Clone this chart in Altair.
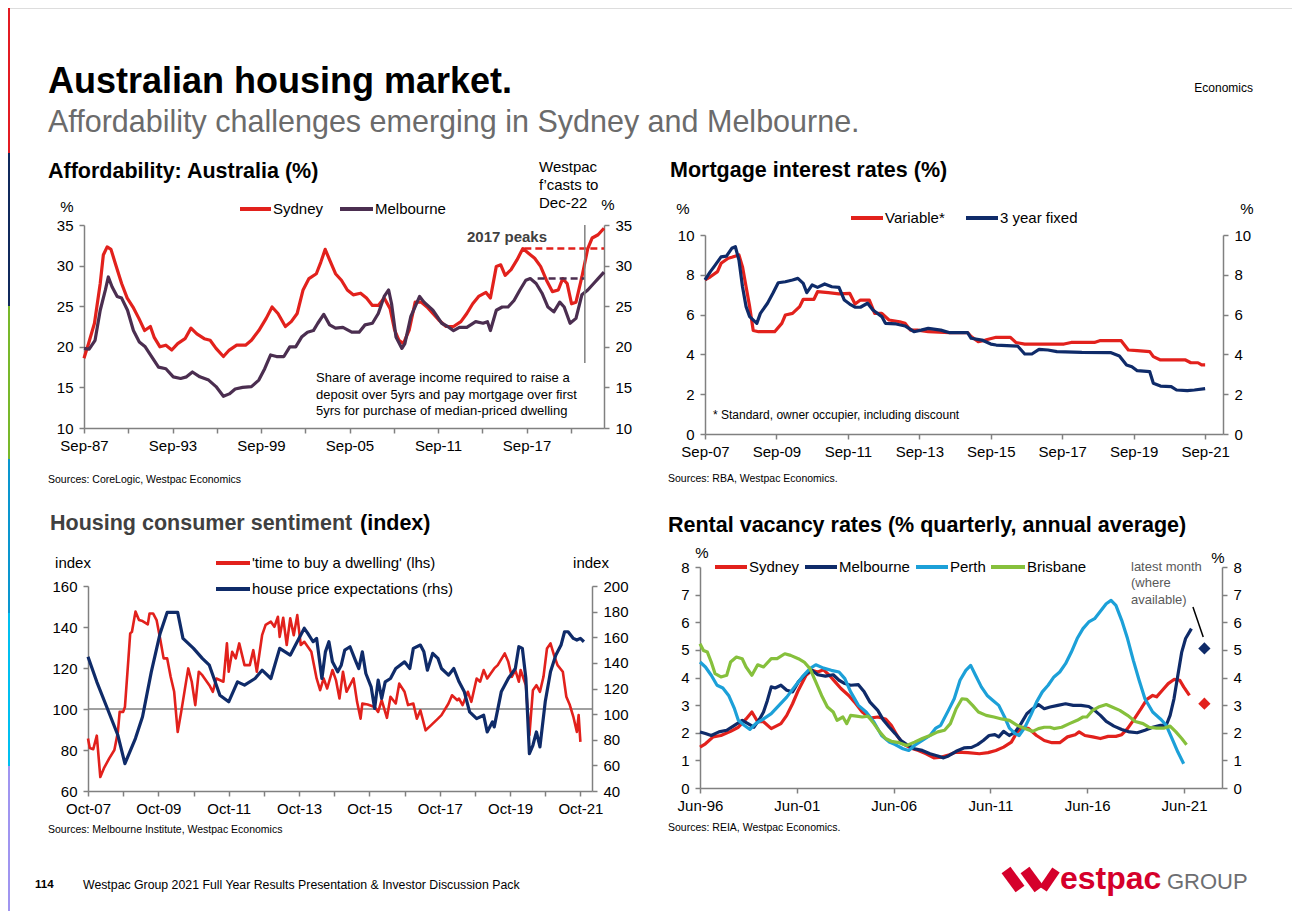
import json
import altair as alt
import pandas as pd

W, H = 1284, 903
FONT = "Liberation Sans"
RED = "#e2211c"
PLUM = "#4b2e50"
NAVY = "#0f2b69"
SKY = "#1ca0d8"
GREEN = "#86c03c"
AXC = "#808080"

# ---------------- data (decimal year, value) ----------------
aff_sydney = [(1987.75,18.6),(1988.06,20.4),(1988.46,22.9),(1988.85,27.8),(1989.06,31.3),(1989.32,32.3),(1989.58,32.0),(1989.9,30.1),(1990.3,27.8),(1990.68,26.0),(1991.07,24.9),(1991.47,23.5),(1991.86,22.0),(1992.25,22.5),(1992.5,21.2),(1992.9,20.0),(1993.3,20.2),(1993.7,19.6),(1994.1,20.4),(1994.6,21.0),(1995.0,22.3),(1995.4,21.6),(1995.9,21.0),(1996.3,20.8),(1996.7,19.8),(1997.2,18.8),(1997.6,19.6),(1998.1,20.2),(1998.7,20.2),(1999.1,20.8),(1999.6,22.0),(2000.1,23.5),(2000.5,24.9),(2000.9,24.1),(2001.4,22.5),(2001.8,23.1),(2002.2,24.1),(2002.6,27.0),(2003.0,28.4),(2003.5,29.0),(2003.8,30.4),(2004.1,32.0),(2004.4,30.7),(2004.8,29.0),(2005.2,28.2),(2005.6,27.0),(2006.0,26.4),(2006.5,26.6),(2006.9,26.0),(2007.3,25.1),(2007.7,25.1),(2008.1,26.0),(2008.5,24.7),(2008.8,22.1),(2009.1,20.8),(2009.4,20.4),(2009.8,22.1),(2010.2,25.5),(2010.6,25.5),(2011.0,24.9),(2011.4,24.1),(2011.8,23.3),(2012.3,22.5),(2012.8,22.5),(2013.3,23.1),(2013.7,24.1),(2014.1,25.3),(2014.5,26.2),(2015.0,26.7),(2015.3,26.0),(2015.7,29.9),(2016.0,30.1),(2016.3,28.8),(2016.7,29.5),(2017.1,30.7),(2017.5,32.1),(2017.9,31.5),(2018.3,30.9),(2018.7,29.9),(2019.1,28.2),(2019.5,26.8),(2019.9,27.0),(2020.2,28.4),(2020.5,27.8),(2020.8,25.3),(2021.1,25.5),(2021.5,28.6),(2021.9,32.1),(2022.2,33.4),(2022.6,33.8),(2023.0,34.6)]
aff_melbourne = [(1987.75,19.8),(1988.1,19.7),(1988.5,20.8),(1988.85,24.5),(1989.2,27.0),(1989.4,28.6),(1989.65,27.4),(1990.0,26.2),(1990.3,26.0),(1990.7,24.5),(1991.1,22.0),(1991.5,20.6),(1991.9,20.0),(1992.4,18.6),(1992.8,17.5),(1993.3,17.3),(1993.8,16.3),(1994.3,16.1),(1994.7,16.3),(1995.1,16.9),(1995.6,16.3),(1996.2,15.9),(1996.7,15.1),(1997.2,13.9),(1997.6,14.2),(1998.0,14.8),(1998.5,15.0),(1999.1,15.1),(1999.6,15.9),(2000.0,17.3),(2000.4,19.0),(2000.8,18.8),(2001.3,18.8),(2001.7,20.0),(2002.1,20.0),(2002.5,21.2),(2002.9,21.8),(2003.3,22.0),(2003.6,22.9),(2004.0,24.0),(2004.4,22.7),(2004.8,22.3),(2005.3,22.4),(2005.9,21.8),(2006.4,21.8),(2006.8,22.7),(2007.3,22.9),(2007.7,24.1),(2008.1,26.2),(2008.4,27.0),(2008.6,25.3),(2008.9,21.2),(2009.3,19.8),(2009.5,20.4),(2009.9,23.7),(2010.5,26.2),(2010.8,25.5),(2011.4,24.5),(2011.7,23.7),(2012.0,22.9),(2012.4,22.5),(2012.8,22.0),(2013.2,22.4),(2013.7,22.4),(2014.3,23.1),(2014.8,22.9),(2015.1,23.1),(2015.3,22.0),(2015.7,24.5),(2016.1,24.9),(2016.5,24.9),(2016.9,25.7),(2017.3,27.0),(2017.7,28.2),(2018.0,28.4),(2018.4,27.8),(2018.8,26.6),(2019.2,24.9),(2019.6,24.3),(2020.0,25.5),(2020.3,24.9),(2020.7,22.9),(2021.1,23.5),(2021.5,26.4),(2021.9,27.0),(2022.3,27.8),(2022.6,28.4),(2023.0,29.2)]
aff_peak_sydney = [(2017.6, 2023.0, 32.1)]
aff_peak_melbourne = [(2018.5, 2021.7, 28.4)]
aff_forecast_start = [(2021.7, 18.0, 35.0)]
aff_xlabels = ["Sep-87", "", "Sep-93", "", "Sep-99", "", "Sep-05", "", "Sep-11", "", "Sep-17", ""]

rate_variable = [(2007.75,7.74),(2007.9,7.9),(2008.1,8.16),(2008.2,8.58),(2008.4,8.83),(2008.5,8.88),(2008.7,9.0),(2008.8,8.4),(2008.9,7.4),(2009.0,6.4),(2009.1,5.2),(2009.25,5.14),(2009.45,5.14),(2009.7,5.14),(2009.9,5.56),(2010.0,5.98),(2010.2,6.06),(2010.4,6.4),(2010.5,6.77),(2010.8,6.77),(2010.9,7.15),(2011.2,7.1),(2011.5,7.04),(2011.8,7.07),(2011.95,6.53),(2012.1,6.73),(2012.35,6.73),(2012.5,6.06),(2012.7,6.06),(2012.9,5.73),(2013.2,5.64),(2013.35,5.56),(2013.5,5.22),(2013.7,5.22),(2014.0,5.14),(2014.6,5.09),(2015.1,5.09),(2015.2,4.9),(2015.4,4.64),(2015.6,4.72),(2015.9,4.86),(2016.3,4.86),(2016.45,4.6),(2016.7,4.52),(2017.8,4.52),(2018.0,4.6),(2018.65,4.6),(2018.8,4.69),(2019.4,4.69),(2019.6,4.22),(2019.85,4.19),(2020.2,4.14),(2020.3,3.89),(2020.5,3.72),(2021.2,3.72),(2021.35,3.58),(2021.55,3.58),(2021.65,3.47),(2021.75,3.47)]
rate_fixed = [(2007.75,7.74),(2007.9,8.16),(2008.0,8.4),(2008.2,8.9),(2008.35,8.94),(2008.5,9.33),(2008.6,9.41),(2008.7,8.74),(2008.8,7.4),(2008.9,6.4),(2009.0,5.9),(2009.2,5.56),(2009.3,6.06),(2009.5,6.57),(2009.65,7.07),(2009.8,7.6),(2010.0,7.65),(2010.2,7.74),(2010.35,7.82),(2010.5,7.57),(2010.6,7.1),(2010.75,7.49),(2010.9,7.37),(2011.1,7.54),(2011.3,7.4),(2011.5,7.37),(2011.65,6.73),(2011.8,6.53),(2011.95,6.37),(2012.1,6.37),(2012.3,6.57),(2012.45,6.23),(2012.7,5.9),(2012.8,5.56),(2013.1,5.53),(2013.35,5.43),(2013.6,5.14),(2013.8,5.22),(2014.0,5.31),(2014.35,5.22),(2014.6,5.09),(2015.1,5.09),(2015.2,4.81),(2015.5,4.72),(2015.75,4.52),(2015.9,4.47),(2016.5,4.42),(2016.7,4.02),(2016.9,4.02),(2017.1,4.25),(2017.35,4.22),(2017.6,4.14),(2018.3,4.1),(2019.1,4.09),(2019.35,3.92),(2019.55,3.47),(2019.7,3.38),(2019.85,3.18),(2020.2,3.13),(2020.3,2.55),(2020.5,2.41),(2020.8,2.38),(2020.95,2.21),(2021.25,2.18),(2021.45,2.21),(2021.75,2.28)]
rate_xlabels = ["Sep-07", "Sep-09", "Sep-11", "Sep-13", "Sep-15", "Sep-17", "Sep-19", "Sep-21"]

time_to_buy = [(2007.75,85.6),(2007.8,81.0),(2007.9,80.4),(2008.0,87.0),(2008.1,66.8),(2008.2,71.0),(2008.35,75.8),(2008.5,80.0),(2008.6,88.8),(2008.65,98.6),(2008.75,98.6),(2008.8,101.0),(2008.9,124.7),(2008.95,136.9),(2009.0,137.7),(2009.1,147.5),(2009.2,143.4),(2009.3,142.9),(2009.45,141.3),(2009.5,146.6),(2009.6,146.6),(2009.7,143.4),(2009.8,134.4),(2009.9,124.7),(2010.0,124.7),(2010.1,115.7),(2010.2,108.4),(2010.3,88.8),(2010.4,98.6),(2010.5,109.2),(2010.6,119.8),(2010.7,113.3),(2010.8,101.9),(2010.9,118.2),(2011.0,116.5),(2011.2,111.6),(2011.3,108.4),(2011.4,114.9),(2011.6,113.3),(2011.7,132.0),(2011.75,118.2),(2011.85,127.9),(2011.95,124.7),(2012.05,132.0),(2012.2,121.4),(2012.35,121.4),(2012.45,128.7),(2012.55,118.2),(2012.7,136.0),(2012.8,141.0),(2012.95,142.6),(2013.05,140.1),(2013.15,145.0),(2013.2,135.2),(2013.3,144.5),(2013.4,131.2),(2013.5,144.2),(2013.6,136.0),(2013.7,145.8),(2013.8,131.2),(2013.9,132.8),(2014.1,127.9),(2014.25,114.9),(2014.35,109.2),(2014.45,114.9),(2014.55,110.0),(2014.7,119.0),(2014.8,114.1),(2014.9,105.1),(2015.0,118.2),(2015.1,108.4),(2015.3,114.9),(2015.4,103.5),(2015.5,95.3),(2015.55,102.7),(2015.7,102.2),(2015.9,101.0),(2016.0,98.6),(2016.1,104.3),(2016.25,95.7),(2016.35,106.0),(2016.5,102.7),(2016.6,112.4),(2016.75,108.4),(2016.85,101.9),(2017.0,102.7),(2017.1,95.3),(2017.2,99.4),(2017.35,89.6),(2017.5,92.0),(2017.7,95.3),(2017.8,97.0),(2018.0,102.7),(2018.1,106.7),(2018.25,104.3),(2018.3,105.1),(2018.4,101.9),(2018.55,108.4),(2018.65,103.5),(2018.8,114.9),(2018.9,113.3),(2019.0,119.0),(2019.1,114.9),(2019.3,119.8),(2019.4,121.4),(2019.6,127.1),(2019.7,123.0),(2019.8,115.7),(2019.9,119.0),(2020.0,113.3),(2020.05,119.0),(2020.2,111.6),(2020.3,87.2),(2020.4,109.2),(2020.5,111.6),(2020.6,108.4),(2020.7,115.7),(2020.8,129.5),(2020.9,132.0),(2021.0,126.3),(2021.1,121.4),(2021.25,118.2),(2021.35,106.0),(2021.45,101.9),(2021.55,96.2),(2021.65,88.8),(2021.7,97.0),(2021.75,84.0)]
price_expect = [(2007.75,144.8),(2008.0,125.2),(2008.3,104.4),(2008.6,83.5),(2008.8,61.4),(2009.1,81.1),(2009.3,97.9),(2009.55,133.0),(2009.8,163.0),(2010.0,179.4),(2010.3,179.4),(2010.45,159.1),(2010.75,151.3),(2011.0,143.5),(2011.2,138.2),(2011.4,122.6),(2011.5,114.8),(2011.75,109.6),(2012.0,125.2),(2012.2,122.6),(2012.5,127.8),(2012.7,134.3),(2012.95,127.8),(2013.2,151.3),(2013.5,146.0),(2013.65,153.9),(2013.9,167.0),(2014.0,163.0),(2014.15,156.5),(2014.25,159.1),(2014.4,127.8),(2014.5,148.6),(2014.6,156.5),(2014.7,140.8),(2014.85,133.0),(2014.95,138.2),(2015.05,150.0),(2015.2,152.6),(2015.35,142.2),(2015.45,135.6),(2015.55,148.6),(2015.65,131.7),(2015.8,121.3),(2015.9,104.4),(2016.0,126.5),(2016.1,112.2),(2016.2,125.2),(2016.35,127.8),(2016.5,135.6),(2016.75,140.8),(2016.9,135.6),(2017.0,151.3),(2017.2,153.9),(2017.3,148.6),(2017.4,134.3),(2017.55,147.4),(2017.7,143.5),(2017.8,135.6),(2018.0,130.4),(2018.15,135.6),(2018.3,125.2),(2018.45,117.4),(2018.6,101.8),(2018.8,96.5),(2019.0,99.1),(2019.1,86.1),(2019.25,94.0),(2019.3,90.0),(2019.5,117.4),(2019.7,127.8),(2019.9,135.6),(2020.0,152.6),(2020.1,151.3),(2020.2,127.8),(2020.3,69.2),(2020.4,75.7),(2020.5,86.1),(2020.6,74.4),(2020.75,109.6),(2020.9,133.0),(2021.05,146.0),(2021.2,153.9),(2021.3,164.3),(2021.4,164.3),(2021.55,159.1),(2021.65,157.8),(2021.75,159.1),(2021.85,156.5)]
sent_xlabels = ["Oct-07", "", "Oct-09", "", "Oct-11", "", "Oct-13", "", "Oct-15", "", "Oct-17", "", "Oct-19", "", "Oct-21"]

vac_sydney = [(1996.42,1.48),(1996.7,1.6),(1997.1,1.85),(1997.5,1.9),(1998.0,2.05),(1998.4,2.2),(1998.8,2.5),(1999.1,2.75),(1999.4,2.4),(1999.7,2.4),(2000.1,2.15),(2000.6,2.33),(2000.9,2.63),(2001.2,3.05),(2001.5,3.54),(2001.9,4.08),(2002.2,4.26),(2002.5,4.2),(2002.8,4.28),(2003.1,4.08),(2003.4,3.84),(2003.7,3.6),(2004.1,3.35),(2004.4,3.11),(2004.8,2.75),(2005.2,2.53),(2005.6,2.57),(2006.0,2.5),(2006.3,2.27),(2006.6,1.9),(2006.9,1.6),(2007.3,1.45),(2007.7,1.36),(2008.1,1.24),(2008.5,1.09),(2008.9,1.12),(2009.3,1.2),(2009.65,1.3),(2010.25,1.28),(2010.85,1.24),(2011.3,1.28),(2011.7,1.36),(2012.1,1.48),(2012.5,1.66),(2012.8,2.03),(2013.1,2.2),(2013.4,2.15),(2013.8,1.9),(2014.2,1.72),(2014.6,1.64),(2015.0,1.64),(2015.4,1.85),(2015.8,1.93),(2016.0,2.03),(2016.3,1.9),(2016.7,1.85),(2017.1,1.79),(2017.5,1.87),(2017.9,1.87),(2018.2,1.93),(2018.5,2.15),(2018.8,2.45),(2019.2,2.87),(2019.5,3.21),(2019.8,3.35),(2020.0,3.3),(2020.3,3.54),(2020.6,3.78),(2020.9,3.93),(2021.2,3.9),(2021.4,3.66),(2021.7,3.35)]
vac_melbourne = [(1996.42,2.03),(1996.7,1.97),(1997.0,1.9),(1997.4,2.03),(1997.8,2.09),(1998.2,2.27),(1998.6,2.45),(1998.9,2.33),(1999.2,2.2),(1999.5,2.5),(1999.7,2.75),(1999.9,3.17),(2000.1,3.66),(2000.3,3.62),(2000.6,3.72),(2000.9,3.54),(2001.2,3.48),(2001.5,3.84),(2001.9,4.14),(2002.2,4.26),(2002.5,4.1),(2002.9,4.05),(2003.3,4.1),(2003.6,3.9),(2003.9,3.78),(2004.2,3.72),(2004.6,3.74),(2004.9,3.48),(2005.2,3.11),(2005.6,2.81),(2005.9,2.45),(2006.2,2.2),(2006.5,1.97),(2006.8,1.72),(2007.1,1.57),(2007.5,1.42),(2007.9,1.36),(2008.3,1.24),(2008.7,1.16),(2009.0,1.09),(2009.25,1.16),(2009.65,1.33),(2010.05,1.45),(2010.45,1.47),(2010.75,1.57),(2011.05,1.72),(2011.35,1.9),(2011.65,1.93),(2011.85,1.85),(2012.1,2.05),(2012.4,1.9),(2012.7,2.03),(2013.0,2.33),(2013.3,2.69),(2013.6,2.87),(2013.9,3.02),(2014.2,2.87),(2014.5,2.93),(2014.9,2.99),(2015.3,3.05),(2015.7,2.99),(2016.1,2.99),(2016.5,2.95),(2016.8,2.81),(2017.1,2.63),(2017.4,2.41),(2017.8,2.24),(2018.2,2.12),(2018.6,2.03),(2019.0,2.0),(2019.4,2.09),(2019.8,2.2),(2020.2,2.27),(2020.5,2.27),(2020.7,2.63),(2020.9,3.23),(2021.1,4.08),(2021.3,4.92),(2021.5,5.41),(2021.8,5.77)]
vac_perth = [(1996.42,4.56),(1996.7,4.38),(1997.0,4.08),(1997.3,3.72),(1997.6,3.62),(1997.9,3.35),(1998.2,2.87),(1998.4,2.45),(1998.7,2.27),(1999.0,2.12),(1999.3,2.33),(1999.7,2.5),(2000.1,2.69),(2000.5,2.99),(2000.9,3.29),(2001.3,3.66),(2001.7,4.02),(2002.1,4.32),(2002.4,4.46),(2002.8,4.34),(2003.2,4.26),(2003.6,4.2),(2003.9,3.96),(2004.2,3.48),(2004.6,2.99),(2005.0,2.75),(2005.4,2.39),(2005.8,1.9),(2006.2,1.66),(2006.5,1.57),(2006.9,1.42),(2007.2,1.36),(2007.5,1.54),(2007.9,1.72),(2008.3,1.9),(2008.6,2.17),(2008.85,2.27),(2009.25,2.81),(2009.55,3.23),(2009.85,3.9),(2010.15,4.26),(2010.4,4.44),(2010.65,4.08),(2010.95,3.66),(2011.25,3.35),(2011.55,3.17),(2011.85,2.99),(2012.15,2.57),(2012.4,2.17),(2012.7,1.97),(2012.9,1.9),(2013.2,2.2),(2013.5,2.63),(2013.8,3.11),(2014.1,3.48),(2014.4,3.72),(2014.7,4.02),(2015.0,4.2),(2015.3,4.5),(2015.6,4.92),(2015.9,5.41),(2016.2,5.77),(2016.5,6.01),(2016.8,6.13),(2017.1,6.4),(2017.4,6.67),(2017.65,6.79),(2017.9,6.61),(2018.2,6.07),(2018.5,5.41),(2018.8,4.62),(2019.1,3.9),(2019.4,3.23),(2019.8,2.75),(2020.2,2.5),(2020.5,2.27),(2020.8,1.79),(2021.1,1.3),(2021.4,0.88)]
vac_brisbane = [(1996.42,5.22),(1996.6,4.98),(1996.8,4.92),(1997.0,4.56),(1997.2,4.14),(1997.5,4.02),(1997.8,4.08),(1998.0,4.56),(1998.3,4.74),(1998.6,4.68),(1998.8,4.38),(1999.1,4.08),(1999.4,4.46),(1999.7,4.38),(2000.1,4.68),(2000.4,4.68),(2000.8,4.86),(2001.1,4.8),(2001.5,4.68),(2001.8,4.56),(2002.1,4.32),(2002.4,3.84),(2002.7,3.35),(2003.0,2.93),(2003.3,2.75),(2003.5,2.45),(2003.8,2.57),(2004.0,2.33),(2004.2,2.63),(2004.5,2.6),(2004.8,2.57),(2005.1,2.6),(2005.4,2.33),(2005.7,2.03),(2006.0,1.79),(2006.3,1.69),(2006.7,1.64),(2007.1,1.54),(2007.5,1.66),(2007.9,1.79),(2008.3,1.9),(2008.7,2.03),(2009.05,2.09),(2009.35,2.33),(2009.65,2.87),(2009.95,3.23),(2010.2,3.21),(2010.5,2.99),(2010.8,2.75),(2011.2,2.63),(2011.6,2.57),(2012.0,2.5),(2012.4,2.45),(2012.8,2.27),(2013.2,2.15),(2013.6,2.05),(2013.9,2.15),(2014.2,2.2),(2014.5,2.2),(2014.7,2.15),(2015.1,2.2),(2015.5,2.33),(2015.9,2.45),(2016.2,2.57),(2016.4,2.57),(2016.7,2.81),(2017.0,2.93),(2017.4,3.02),(2017.7,2.93),(2018.1,2.81),(2018.5,2.63),(2018.9,2.41),(2019.3,2.33),(2019.6,2.2),(2020.0,2.17),(2020.4,2.17),(2020.7,2.24),(2021.0,2.03),(2021.3,1.79),(2021.55,1.57)]
vac_latest_melbourne = [(2022.47, 5.05)]
vac_latest_sydney = [(2022.47, 3.05)]
vac_pointer = [(2021.88, 2022.41, 6.55, 5.47)]
vac_xlabels = ["Jun-96", "Jun-01", "Jun-06", "Jun-11", "Jun-16", "Jun-21"]

stripe_colors = ["#e31b23", "#10295c", "#78b82a", "#0a96cf", "#00bff0", "#a095f0"]

# ---------------- helpers ----------------
one = pd.DataFrame({"k": [0]})


def sc(domain, rng):
    return alt.Scale(domain=domain, range=rng, nice=False, zero=False)


def axis(**kw):
    d = dict(title=None, grid=False, domainColor=AXC, domainWidth=1.5, tickColor=AXC,
             tickWidth=1.5, tickSize=5, labelFont=FONT, labelFontSize=15, labelColor="#000",
             labelOverlap=False, labelFlush=False, labelBound=False)
    d.update(kw)
    return alt.Axis(**d)


def x_axis(values, labels, ypix, start, step):
    expr = json.dumps(labels) + f"[round((datum.value - ({start})) / {step})]"
    return axis(orient="bottom", offset=ypix - H, values=values, labelExpr=expr, labelPadding=5)


def left_axis(values, xpix):
    return axis(orient="left", offset=-xpix, values=values, labelPadding=6)


def right_axis(values, xpix):
    return axis(orient="right", offset=xpix - W, values=values, labelPadding=6)


def line(pairs, color, xs, ys, xa=None, ya=None, sw=3.2):
    df = pd.DataFrame(pairs, columns=["t", "v"])
    return alt.Chart(df).mark_line(color=color, strokeWidth=sw, strokeJoin="round").encode(
        x=alt.X("t:Q", scale=xs, axis=xa), y=alt.Y("v:Q", scale=ys, axis=ya))


def txt(s, x, y, size=15, weight="normal", color="#000", align="left", baseline="middle"):
    return alt.Chart(one).mark_text(text=s, font=FONT, fontSize=size, fontWeight=weight,
                                    color=color, align=align, baseline=baseline).encode(
        x=alt.value(x), y=alt.value(y))


def swatch(x1, x2, y, color, w=4):
    return alt.Chart(one).mark_rule(color=color, strokeWidth=w).encode(
        x=alt.value(x1), x2=alt.value(x2), y=alt.value(y))


layers = []

# ---------------- left stripe ----------------
bounds = [0, 145, 298, 451, 605, 758, H]
for i, c in enumerate(stripe_colors):
    layers.append(alt.Chart(one).mark_rect(color=c).encode(
        x=alt.value(0), x2=alt.value(2), y=alt.value(bounds[i]), y2=alt.value(bounds[i + 1])))

# ---------------- header / footer ----------------
layers += [
    txt("Australian housing market.", 40, 85, 36, "bold", baseline="alphabetic"),
    txt("Affordability challenges emerging in Sydney and Melbourne.", 40, 124, 30.5, color="#6b6b6b", baseline="alphabetic"),
    txt("Economics", 1245, 80, 12, align="right"),
    txt("114", 27, 877, 11.5, "bold"),
    txt("Westpac Group 2021 Full Year Results Presentation & Investor Discussion Pack", 75, 877, 12.3),
]
for (a, b, c, d, w) in [(998, 1012, 862, 881, 11), (1017, 1031, 862, 881, 11), (1048, 1035, 862, 881, 9)]:
    layers.append(alt.Chart(one).mark_rule(color="#d5002b", strokeWidth=w, strokeCap="butt").encode(
        x=alt.value(a), x2=alt.value(b), y=alt.value(c), y2=alt.value(d)))
layers += [
    txt("estpac", 1052, 881, 32, "bold", color="#d5002b", baseline="alphabetic"),
    txt("GROUP", 1159, 881, 22, color="#6d6e71", baseline="alphabetic"),
]

# ---------------- panel 1: affordability ----------------
X1 = sc([1987.75, 2023.0], [76, 596])
Y1 = sc([10, 35], [420, 217])
yv1 = [10, 15, 20, 25, 30, 35]
xv1 = [1987.75 + 3 * k for k in range(12)]
layers += [
    line(aff_sydney, RED, X1, Y1, x_axis(xv1, aff_xlabels, 420, 1987.75, 3), left_axis(yv1, 76)),
    line(aff_melbourne, PLUM, X1, Y1, None, right_axis(yv1, 596)),
]
for pairs, col in [(aff_peak_sydney, RED), (aff_peak_melbourne, PLUM)]:
    df = pd.DataFrame(pairs, columns=["x1", "x2", "y"])
    layers.append(alt.Chart(df).mark_rule(color=col, strokeWidth=2.5, strokeDash=[7, 4]).encode(
        x=alt.X("x1:Q", scale=X1, axis=None), x2="x2:Q", y=alt.Y("y:Q", scale=Y1, axis=None)))
df = pd.DataFrame(aff_forecast_start, columns=["x", "y1", "y2"])
layers.append(alt.Chart(df).mark_rule(color=AXC, strokeWidth=1.5).encode(
    x=alt.X("x:Q", scale=X1, axis=None), y=alt.Y("y1:Q", scale=Y1, axis=None), y2="y2:Q"))
layers += [
    txt("Affordability: Australia (%)", 40, 170, 21.5, "bold", baseline="alphabetic"),
    txt("%", 59, 199, align="center"),
    txt("%", 600, 197, align="center"),
    swatch(232, 263, 201, RED), txt("Sydney", 265, 201),
    swatch(332, 365, 201, PLUM), txt("Melbourne", 367, 201),
    txt("Westpac", 531, 159), txt("f\u2019casts to", 531, 177), txt("Dec-22", 531, 195),
    txt("2017 peaks", 499, 229, 15, "bold", color="#404040", align="center"),
    txt("Share of average income required to raise a", 308, 370, 13),
    txt("deposit over 5yrs and pay mortgage over first", 308, 387, 13),
    txt("5yrs for purchase of median-priced dwelling", 308, 403, 13),
    txt("Sources: CoreLogic, Westpac Economics", 40, 472, 10.5),
]

# ---------------- panel 2: mortgage rates ----------------
X2 = sc([2007.75, 2022.25], [697, 1215])
Y2 = sc([0, 10], [426, 227])
yv2 = [0, 2, 4, 6, 8, 10]
xv2 = [2007.75 + 2 * k for k in range(8)]
layers += [
    line(rate_variable, RED, X2, Y2, x_axis(xv2, rate_xlabels, 426, 2007.75, 2), left_axis(yv2, 697)),
    line(rate_fixed, NAVY, X2, Y2, None, right_axis(yv2, 1215)),
    txt("Mortgage interest rates (%)", 662, 169, 21.5, "bold", baseline="alphabetic"),
    txt("%", 675, 201, align="center"),
    txt("%", 1239, 201, align="center"),
    swatch(843, 875, 210, RED), txt("Variable*", 877, 210),
    swatch(958, 990, 210, NAVY), txt("3 year fixed", 992, 210),
    txt("* Standard, owner occupier, including discount", 705, 407, 12),
    txt("Sources: RBA, Westpac Economics.", 660, 471, 10.5),
]

# ---------------- panel 3: sentiment ----------------
X3 = sc([2007.75, 2022.08], [80, 584])
Y3L = sc([60, 160], [783, 578])
Y3R = sc([40, 200], [783, 578])
xv3 = [2007.75 + k for k in range(15)]
layers.append(alt.Chart(pd.DataFrame({"x1": [2007.75], "x2": [2022.08], "y": [100]})).mark_rule(
    color=AXC, strokeWidth=1.5).encode(
    x=alt.X("x1:Q", scale=X3, axis=None), x2="x2:Q", y=alt.Y("y:Q", scale=Y3L, axis=None)))
layers += [
    line(time_to_buy, RED, X3, Y3L, x_axis(xv3, sent_xlabels, 783, 2007.75, 1),
         left_axis([60, 80, 100, 120, 140, 160], 80), sw=2.6),
    line(price_expect, NAVY, X3, Y3R, None,
         right_axis([40, 60, 80, 100, 120, 140, 160, 180, 200], 584), sw=3.2),
    txt("Housing consumer sentiment", 42, 522, 21.5, "bold", color="#404040", baseline="alphabetic"),
    txt("(index)", 352, 522, 21.5, "bold", baseline="alphabetic"),
    txt("index", 65, 555, align="center"),
    txt("index", 583, 555, align="center"),
    swatch(208, 242, 555, RED), txt("'time to buy a dwelling' (lhs)", 244, 555),
    swatch(208, 242, 581, NAVY), txt("house price expectations (rhs)", 244, 581),
    txt("Sources: Melbourne Institute, Westpac Economics", 40, 822, 10.5),
]

# ---------------- panel 4: vacancy ----------------
X4 = sc([1996.42, 2023.38], [692, 1214])
Y4 = sc([0, 8], [780, 559])
yv4 = [0, 1, 2, 3, 4, 5, 6, 7, 8]
xv4 = [1996.42 + 5 * k for k in range(6)]
layers += [
    line(vac_sydney, RED, X4, Y4, x_axis(xv4, vac_xlabels, 780, 1996.42, 5), left_axis(yv4, 692)),
    line(vac_melbourne, NAVY, X4, Y4, None, right_axis(yv4, 1214)),
    line(vac_perth, SKY, X4, Y4),
    line(vac_brisbane, GREEN, X4, Y4),
]
for pairs, col in [(vac_latest_melbourne, NAVY), (vac_latest_sydney, RED)]:
    df = pd.DataFrame(pairs, columns=["t", "v"])
    layers.append(alt.Chart(df).mark_point(shape="diamond", filled=True, size=150, color=col, opacity=1).encode(
        x=alt.X("t:Q", scale=X4, axis=None), y=alt.Y("v:Q", scale=Y4, axis=None)))
df = pd.DataFrame(vac_pointer, columns=["x1", "x2", "y1", "y2"])
layers.append(alt.Chart(df).mark_rule(color="#000", strokeWidth=1.5).encode(
    x=alt.X("x1:Q", scale=X4, axis=None), x2="x2:Q",
    y=alt.Y("y1:Q", scale=Y4, axis=None), y2="y2:Q"))
layers += [
    txt("Rental vacancy rates (% quarterly, annual average)", 660, 524, 21.5, "bold", baseline="alphabetic"),
    txt("%", 694, 545, align="center"),
    txt("%", 1210, 550, align="center"),
    swatch(707, 739, 559, RED), txt("Sydney", 741, 559),
    swatch(797, 829, 559, NAVY), txt("Melbourne", 831, 559),
    swatch(908, 940, 559, SKY), txt("Perth", 942, 559),
    swatch(983, 1017, 559, GREEN), txt("Brisbane", 1019, 559),
    txt("latest month", 1123, 559, 13, color="#595959"),
    txt("(where", 1123, 575, 13, color="#595959"),
    txt("available)", 1123, 592, 13, color="#595959"),
    txt("Sources: REIA, Westpac Economics.", 660, 820, 10.5),
]

chart = alt.layer(*layers).resolve_scale(x="independent", y="independent").properties(
    width=W, height=H, padding=0, autosize=alt.AutoSizeParams(type="none")
).configure_view(strokeWidth=0, stroke="transparent").configure(background="white")

chart.save("out.html", embed_options={"renderer": "svg", "actions": False})
